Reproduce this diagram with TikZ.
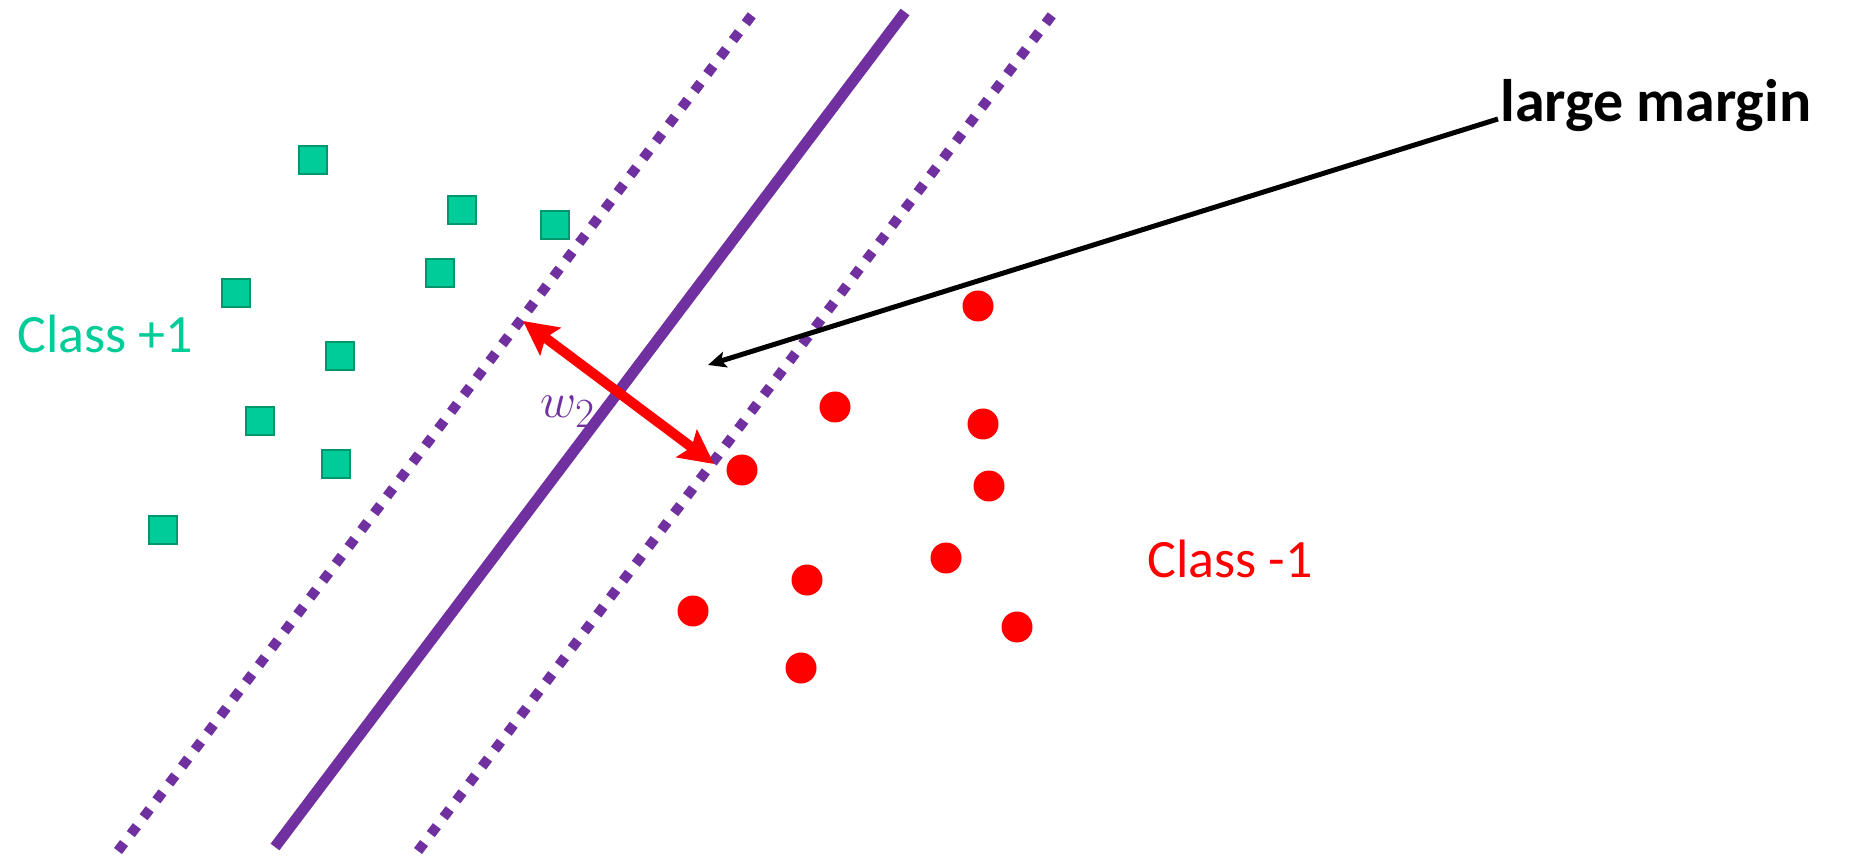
\documentclass[tikz,border=0pt]{standalone}
\usepackage{fontspec}
\setmainfont{Carlito}
\usetikzlibrary{arrows.meta}

\definecolor{svmpurple}{RGB}{112,48,160}
\definecolor{posfill}{RGB}{0,204,153}
\definecolor{posedge}{RGB}{0,150,110}

\tikzset{
  possq/.style={rectangle, draw=posedge, fill=posfill, line width=1pt, minimum size=14pt, inner sep=0pt},
  negpt/.style={circle, fill=red, minimum size=15.5pt, inner sep=0pt},
  marginline/.style={svmpurple, line width=5pt, dash pattern=on 5pt off 5.6pt},
  hyperline/.style={svmpurple, line width=5.5pt},
  classlabel/.style={anchor=base west, inner sep=0pt, font=\fontsize{27}{30}\selectfont}
}

\begin{document}
\begin{tikzpicture}[x=0.5pt, y=-0.5pt]
  \useasboundingbox (0,0) rectangle (1850,860);
  % separating line and margins
  \coordinate (ml bot) at (118,851);
  \coordinate (ml top) at (752,15);
  \coordinate (hp bot) at (275,847);
  \coordinate (hp top) at (905,12);
  \coordinate (mr bot) at (418,851);
  \coordinate (mr top) at (1052,15);
  \draw[marginline] (ml bot) -- (ml top);
  \draw[hyperline] (hp bot) -- (hp top);
  \draw[marginline] (mr bot) -- (mr top);
  % class +1
  \node[possq] (p1) at (313,160) {};
  \node[possq] (p2) at (462,210) {};
  \node[possq] (p3) at (555,225) {};
  \node[possq] (p4) at (440,273) {};
  \node[possq] (p5) at (236,293) {};
  \node[possq] (p6) at (340,356) {};
  \node[possq] (p7) at (260,421) {};
  \node[possq] (p8) at (336,464) {};
  \node[possq] (p9) at (163,530) {};
  \node[classlabel, text=posfill] (pos) at (17,353) {Class +1};
  % class -1
  \node[negpt] (n1) at (978,306) {};
  \node[negpt] (n2) at (835,407) {};
  \node[negpt] (n3) at (983,424) {};
  \node[negpt] (n4) at (989,486) {};
  \node[negpt] (n5) at (742,470) {};
  \node[negpt] (n6) at (946,558) {};
  \node[negpt] (n7) at (807,580) {};
  \node[negpt] (n8) at (693,611) {};
  \node[negpt] (n9) at (1017,627) {};
  \node[negpt] (n10) at (801,668) {};
  \node[classlabel, text=red] (neg) at (1147,577) {Class -1};
  % width of the margin
  \coordinate (wl) at (523,321);
  \coordinate (wr) at (714,464);
  \draw[red, line width=5pt, {Stealth[length=17pt, width=17pt, inset=3pt]}-{Stealth[length=17pt, width=17pt, inset=3pt]}] (wl) -- (wr);
  \node[anchor=base west, inner sep=0pt, text=svmpurple, font=\fontsize{29}{30}\selectfont] (w) at (540,418) {$w_2$};
  % callout
  \node[anchor=base west, inner sep=0pt, font=\bfseries\fontsize{30}{32}\selectfont] (lm) at (1500,122) {large margin};
  \coordinate (lm tip) at (708,365);
  \draw[line width=2.5pt, -{Stealth[length=9pt, width=8pt, inset=2pt]}] ([xshift=-1pt, yshift=1.5pt]lm.base west) -- (lm tip);
\end{tikzpicture}
\end{document}
